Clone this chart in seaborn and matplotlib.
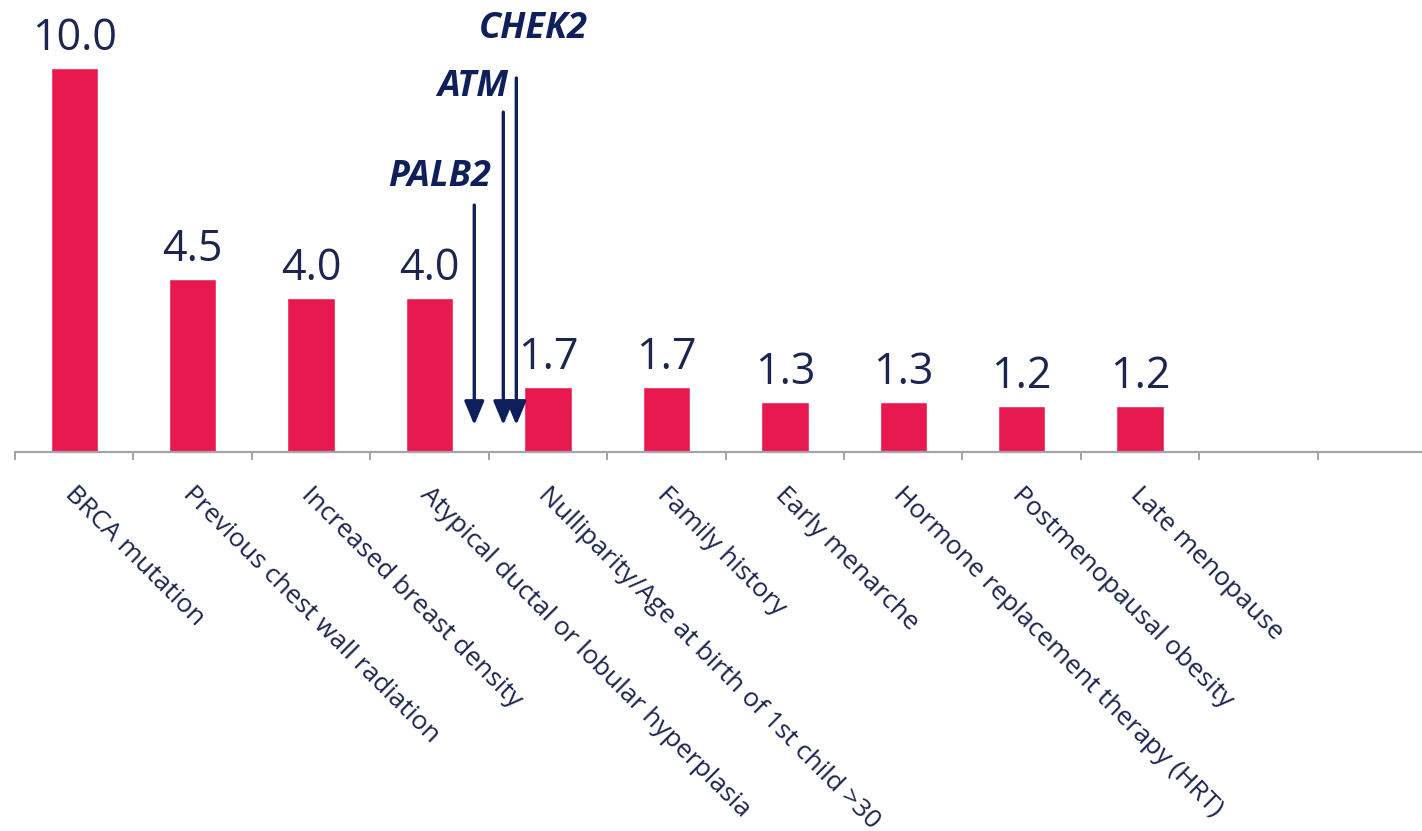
import matplotlib
matplotlib.use("Agg")
import matplotlib.pyplot as plt
import matplotlib.transforms as mtrans
import seaborn as sns
import pandas as pd
import numpy as np

categories = ["BRCA mutation", "Previous chest wall radiation", "Increased breast density",
              "Atypical ductal or lobular hyperplasia", "Nulliparity/Age at birth of 1st child >30",
              "Family history", "Early menarche", "Hormone replacement therapy (HRT)",
              "Postmenopausal obesity", "Late menopause"]
values = [10.0, 4.5, 4.0, 4.0, 1.7, 1.7, 1.3, 1.3, 1.2, 1.2]
value_labels = ["10.0", "4.5", "4.0", "4.0", "1.7", "1.7", "1.3", "1.3", "1.2", "1.2"]

genes = ["PALB2", "ATM", "CHEK2"]
gene_x = [3.378, 3.623, 3.733]
gene_top = [6.43, 8.85, 9.74]
gene_tip = [0.70, 0.70, 0.70]

sns.set_theme(style="white")
plt.rcParams['font.family'] = ['Open Sans', 'DejaVu Sans']

BAR = "#E8194F"
TXT = "#1B2550"
GENE = "#0E1F5B"
AXC = "#A3A3AC"

fig = plt.figure(figsize=(14.22, 8.31), dpi=100)
ax = fig.add_axes([15/1422, (831-452)/831, 1 - 15/1422, 452/831])

df = pd.DataFrame({"cat": categories, "val": values})
sns.barplot(data=df, x="cat", y="val", order=categories, color=BAR, saturation=1,
            width=0.40, ax=ax)

ax.set_xlim(-0.5, 11.38)
ax.set_ylim(0, 452/38.4)

for s in ["top", "right", "left"]:
    ax.spines[s].set_visible(False)
ax.spines["bottom"].set_color(AXC)
ax.spines["bottom"].set_linewidth(1.6)
ax.set_yticks([])
ax.set_xlabel("")
ax.set_ylabel("")

ax.set_xticks(range(len(categories)))
ax.set_xticklabels(categories, rotation=-45, ha="left", va="center",
                   rotation_mode="anchor", fontsize=19, color=TXT)
ax.tick_params(axis="x", which="major", length=0, pad=28, bottom=True)
ax.set_xticks(np.arange(-0.5, 11.0, 1.0), minor=True)
ax.tick_params(axis="x", which="minor", length=6, width=1.4, color=AXC,
               direction="out", bottom=True)
shift = mtrans.ScaledTranslation(-6/100, 0, fig.dpi_scale_trans)
for lab in ax.get_xticklabels():
    lab.set_transform(lab.get_transform() + shift)

for i, (v, lab) in enumerate(zip(values, value_labels)):
    ax.annotate(lab, (i, v), xytext=(0, 5), textcoords="offset points",
                ha="center", va="bottom", fontsize=31, color=TXT)

for g, gx, gt, tip in zip(genes, gene_x, gene_top, gene_tip):
    ax.annotate("", xy=(gx, tip), xytext=(gx, gt),
                arrowprops=dict(arrowstyle="-|>,head_width=0.5,head_length=1.2",
                                color=GENE, lw=2.4, shrinkA=0, shrinkB=0))

gkw = dict(fontsize=26, fontweight="bold", fontstyle="italic", color=GENE)
ax.text(gene_x[0] + 0.14, gene_top[0] + 0.26, genes[0], ha="right", va="bottom", **gkw)
ax.text(gene_x[1] + 0.04, gene_top[1] + 0.18, genes[1], ha="right", va="bottom", **gkw)
ax.text(gene_x[2] + 0.14, gene_top[2] + 0.8, genes[2], ha="center", va="bottom", **gkw)

fig.savefig("out.png", dpi=100)
